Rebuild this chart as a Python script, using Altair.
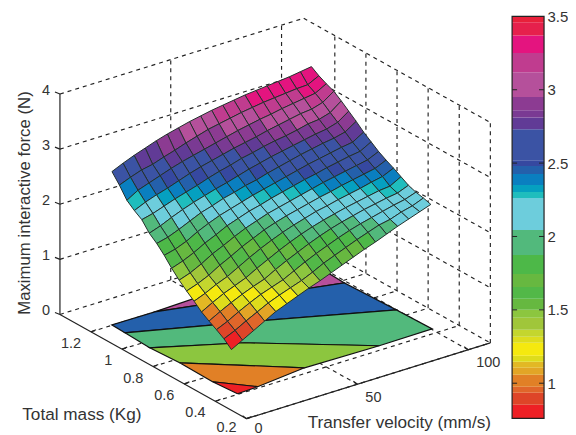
import altair as alt
import pandas as pd

# ---- axis ticks
V_TICKS = [0, 50, 100]
M_TICKS = [0.2, 0.4, 0.6, 0.8, 1, 1.2]
Z_TICKS = [0, 1, 2, 3, 4]
BAR_TICKS = [1, 1.5, 2, 2.5, 3, 3.5]

# ---- surface grid
VELOCITY = [10, 15, 20, 25, 30, 35, 40, 45, 50, 55, 60, 65, 70, 75, 80, 85, 90, 95, 100]
MASS = [0.44, 0.488, 0.536, 0.584, 0.632, 0.68, 0.728, 0.776, 0.824, 0.872, 0.92, 0.968,
        1.016, 1.064, 1.112, 1.16, 1.208]
F_V10 = [.75, .87, .96, 1.04, 1.13, 1.25, 1.36, 1.48, 1.62, 1.78, 1.92, 2.03, 2.20, 2.29, 2.40, 2.60, 2.77]
F_V15 = [.86, .96, 1.05, 1.15, 1.24, 1.33, 1.43, 1.55, 1.69, 1.83, 1.97, 2.10, 2.25, 2.38, 2.52, 2.68, 2.86]
F_V20 = [.97, 1.07, 1.16, 1.25, 1.34, 1.43, 1.52, 1.65, 1.78, 1.91, 2.05, 2.19, 2.32, 2.45, 2.59, 2.75, 2.94]
F_V25 = [1.08, 1.17, 1.26, 1.34, 1.42, 1.51, 1.64, 1.77, 1.89, 2.02, 2.14, 2.27, 2.39, 2.51, 2.66, 2.79, 3.01]
F_V30 = [1.19, 1.27, 1.35, 1.42, 1.50, 1.62, 1.74, 1.86, 1.98, 2.11, 2.23, 2.34, 2.45, 2.58, 2.73, 2.86, 3.08]
F_V35 = [1.27, 1.35, 1.42, 1.49, 1.61, 1.73, 1.85, 1.96, 2.08, 2.19, 2.29, 2.40, 2.51, 2.65, 2.79, 2.92, 3.14]
F_V40 = [1.35, 1.42, 1.49, 1.60, 1.71, 1.83, 1.94, 2.05, 2.15, 2.25, 2.36, 2.46, 2.58, 2.71, 2.84, 2.99, 3.19]
F_V45 = [1.43, 1.49, 1.59, 1.70, 1.81, 1.92, 2.03, 2.12, 2.22, 2.31, 2.41, 2.51, 2.64, 2.76, 2.89, 3.05, 3.24]
F_V50 = [1.50, 1.58, 1.69, 1.79, 1.90, 2.00, 2.10, 2.19, 2.27, 2.37, 2.47, 2.57, 2.69, 2.81, 2.94, 3.11, 3.28]
F_V55 = [1.58, 1.68, 1.78, 1.88, 1.98, 2.07, 2.16, 2.24, 2.33, 2.42, 2.51, 2.63, 2.75, 2.86, 2.99, 3.15, 3.32]
F_V60 = [1.66, 1.76, 1.86, 1.96, 2.05, 2.13, 2.21, 2.29, 2.38, 2.47, 2.57, 2.68, 2.79, 2.90, 3.04, 3.19, 3.35]
F_V65 = [1.74, 1.84, 1.94, 2.03, 2.11, 2.19, 2.26, 2.34, 2.43, 2.52, 2.62, 2.73, 2.84, 2.94, 3.08, 3.23, 3.38]
F_V70 = [1.82, 1.92, 2.01, 2.09, 2.16, 2.23, 2.31, 2.39, 2.48, 2.57, 2.67, 2.77, 2.88, 2.99, 3.12, 3.26, 3.41]
F_V75 = [1.89, 1.99, 2.07, 2.14, 2.21, 2.28, 2.35, 2.44, 2.52, 2.62, 2.72, 2.81, 2.91, 3.03, 3.15, 3.29, 3.43]
F_V80 = [1.97, 2.06, 2.12, 2.19, 2.25, 2.32, 2.40, 2.48, 2.57, 2.66, 2.76, 2.85, 2.95, 3.07, 3.19, 3.31, 3.45]
F_V85 = [2.05, 2.10, 2.17, 2.23, 2.29, 2.36, 2.44, 2.52, 2.61, 2.70, 2.80, 2.89, 3.00, 3.11, 3.22, 3.33, 3.47]
F_V90 = [2.12, 2.17, 2.22, 2.27, 2.33, 2.41, 2.48, 2.56, 2.65, 2.74, 2.83, 2.92, 3.02, 3.13, 3.25, 3.35, 3.49]
F_V95 = [2.19, 2.22, 2.26, 2.30, 2.35, 2.45, 2.52, 2.60, 2.68, 2.77, 2.88, 2.98, 3.08, 3.19, 3.28, 3.36, 3.52]
F_V100 = [2.26, 2.30, 2.33, 2.38, 2.46, 2.54, 2.61, 2.69, 2.79, 2.89, 3.01, 3.12, 3.23, 3.33, 3.39, 3.46, 3.55]
FORCE = [F_V10, F_V15, F_V20, F_V25, F_V30, F_V35, F_V40, F_V45, F_V50, F_V55, F_V60, F_V65,
         F_V70, F_V75, F_V80, F_V85, F_V90, F_V95, F_V100]

# ---- colour map: band limits and colours, as on the colour bar
BAND_LIMITS = [.854, .935, .976, 1.058, 1.105, 1.146, 1.187, 1.276, 1.316, 1.364, 1.446, 1.5,
               1.575, 1.656, 1.745, 1.874, 2.044, 2.262, 2.303, 2.35, 2.425, 2.48, 2.52, 2.73,
               2.81, 2.86, 2.95, 3.12, 3.25, 3.37, 3.46]
BAND_COLORS = ["#EE2025", "#DE4528", "#E0662A", "#E18026", "#E2A526", "#E2B824", "#DEDC1C", "#F5E90F",
               "#DDDD1E", "#C4D62E", "#A0C63A", "#8CC63F", "#66B840", "#52B848", "#67B840", "#4DB848",
               "#52B97C", "#6DCDDC", "#1FBDBD", "#05A0C0", "#0A7FC0", "#2460AB", "#3648A0", "#3B53A4",
               "#613B96", "#7A3A93", "#8C3B92", "#B5509B", "#C03C8F", "#E4147F", "#E6204C", "#E8203A"]
BAR_MIN, BAR_MAX = 0.76, 3.5

# ---- filled contours on the floor: (velocity, mass) outline and level
C_RED = [(10.3, .405), (9.3, .551), (19.8, .411)]
C_ORANGE = [(9.3, .551), (9.6, .767), (43.2, .443), (19.8, .411)]
C_LIME = [(9.6, .767), (8.7, .947), (38.8, .766), (76.3, .434), (43.2, .443)]
C_GREEN = [(8.7, .947), (9.3, 1.115), (58.5, .874), (99.9, .66), (100.4, .437), (76.3, .434), (38.8, .766)]
C_BLUE = [(9.3, 1.115), (9.64, 1.204), (28.8, 1.201), (98.8, .979), (99.9, .66), (58.5, .874)]
C_PURPLE = [(28.8, 1.201), (99.8, 1.235), (98.8, .979)]
CONTOURS = [(C_PURPLE, 3.0), (C_BLUE, 2.45), (C_GREEN, 1.95), (C_LIME, 1.47), (C_ORANGE, 1.0), (C_RED, .8)]

V_EDGE, M_EDGE = 110, 1.4
Z_TOP = 4
FONT = "Liberation Sans"
INK = "#333333"


def px(v, m, z=0):
    """View of the 3-D box, in page pixels."""
    return 247 + 2.22 * v - 155.8 * (m - .2), 417 - .69 * v - 87 * (m - .2) - 55.2 * z


X = alt.Scale(domain=[8, 545], nice=False, zero=False)
Y = alt.Scale(domain=[432, 8], nice=False, zero=False)
xe = alt.X("x:Q", scale=X, axis=None)
ye = alt.Y("y:Q", scale=Y, axis=None)
fill_scale = alt.Scale(type="threshold", domain=BAND_LIMITS, range=BAND_COLORS)

# --- floor contours
rows = []
for n, (outline, level) in enumerate(CONTOURS):
    for k, (v, m) in enumerate(outline + outline[:1]):
        x, y = px(v, m)
        rows.append(dict(cell=n, k=k, x=x, y=y, c=level))
floor = alt.Chart(pd.DataFrame(rows)).mark_line(stroke="#111111", strokeWidth=1.2, clip=False).encode(
    x=xe, y=ye, detail="cell:N", order="k:Q",
    fill=alt.Fill("c:Q", scale=fill_scale, legend=None))

# --- surface
rows = []
n = 0
for i in range(len(MASS) - 2, -1, -1):
    for j in range(len(VELOCITY) - 2, -1, -1):
        corners = [(j, i), (j + 1, i), (j + 1, i + 1), (j, i + 1), (j, i)]
        for k, (b, a) in enumerate(corners):
            x, y = px(VELOCITY[b], MASS[a], FORCE[b][a])
            rows.append(dict(cell=n, k=k, x=x, y=y, c=FORCE[j][i]))
        n += 1
surface = alt.Chart(pd.DataFrame(rows)).mark_line(stroke="#23302c", strokeWidth=1, clip=False).encode(
    x=xe, y=ye, detail="cell:N", order="k:Q",
    fill=alt.Fill("c:Q", scale=fill_scale, legend=None))

# --- dashed grid
seg = []


def add(store, a, b):
    store.append(dict(x=a[0], y=a[1], x2=b[0], y2=b[1]))


for z in Z_TICKS:
    add(seg, px(0, M_EDGE, z), px(V_EDGE, M_EDGE, z))
    add(seg, px(V_EDGE, M_EDGE, z), px(V_EDGE, .2, z))
for v in V_TICKS[1:]:
    add(seg, px(v, .2), px(v, M_EDGE))
    add(seg, px(v, M_EDGE), px(v, M_EDGE, Z_TOP))
for m in M_TICKS:
    add(seg, px(0, m), px(V_EDGE, m))
    add(seg, px(V_EDGE, m), px(V_EDGE, m, Z_TOP))
rule_enc = dict(x=xe, y=ye, x2="x2:Q", y2="y2:Q")
grid = alt.Chart(pd.DataFrame(seg)).mark_rule(stroke="#222222", strokeWidth=1.15, strokeDash=[4, 4]).encode(**rule_enc)

# --- solid axes and their ticks
seg = []
add(seg, px(0, M_EDGE, 0), px(0, M_EDGE, Z_TOP))
add(seg, px(0, M_EDGE, 0), px(0, .2, 0))
add(seg, px(0, .2, 0), px(V_EDGE, .2, 0))
for z in Z_TICKS:
    a = px(0, M_EDGE, z)
    add(seg, a, (a[0] - 5, a[1] - 2))
for m in M_TICKS:
    a = px(0, m)
    add(seg, a, (a[0] + 5, a[1] - 2))
for v in V_TICKS:
    a = px(v, .2)
    add(seg, a, (a[0] - 4, a[1] - 3))
axes3d = alt.Chart(pd.DataFrame(seg)).mark_rule(stroke="#222222", strokeWidth=1.2).encode(**rule_enc)


# --- text
def labels(frame, **mark):
    base = dict(font=FONT, color=INK, baseline="middle")
    base.update(mark)
    return alt.Chart(pd.DataFrame(frame)).mark_text(**base).encode(x=xe, y=ye, text="t:N")


fs = 14.5
ts = 17.2
lab_z = labels([dict(x=px(0, M_EDGE, z)[0] - 10, y=px(0, M_EDGE, z)[1] - 3, t=str(z)) for z in Z_TICKS],
               align="right", fontSize=fs)
lab_m = labels([dict(x=px(0, m)[0] - 10, y=min(px(0, m)[1] + 12, 426.5), t=str(m)) for m in M_TICKS],
               align="right", fontSize=fs)
lab_v = labels([dict(x=px(v, .2)[0] + 8, y=min(px(v, .2)[1] + 13.5, 427), t=str(v)) for v in V_TICKS],
               align="left", fontSize=fs)
title_m = labels([dict(x=82, y=413, t="Total mass (Kg)")], align="center", fontSize=ts)
title_v = labels([dict(x=400, y=421, t="Transfer velocity (mm/s)")], align="center", fontSize=ts)
title_z = labels([dict(x=25, y=201, t="Maximum interactive force (N)")], align="center", fontSize=ts - .4, angle=270)

# --- colour bar, with a value axis of its own
bar_scale = alt.Scale(domain=[.6565, 3.5408], nice=False, zero=False)
edges = [BAR_MIN] + BAND_LIMITS + [BAR_MAX]
bar_df = pd.DataFrame(dict(lo=edges[:-1], hi=edges[1:], c=[(a + b) / 2 for a, b in zip(edges[:-1], edges[1:])],
                           x=513, x2=545))
bar = alt.Chart(bar_df).mark_rect().encode(
    x=xe, x2="x2:Q",
    y=alt.Y("lo:Q", scale=bar_scale, axis=alt.Axis(
        orient="right", values=BAR_TICKS, domain=False, ticks=False, grid=False, title=None, format="~g",
        labelFont=FONT, labelFontSize=15, labelColor=INK, labelPadding=3)),
    y2="hi:Q",
    color=alt.Color("c:Q", scale=fill_scale, legend=None))
frame_df = pd.DataFrame(dict(lo=[BAR_MIN], hi=[BAR_MAX], x=[513], x2=[545]))
bar_frame = alt.Chart(frame_df).mark_rect(fillOpacity=0, stroke="#222222", strokeWidth=1.2).encode(
    x=xe, x2="x2:Q", y=alt.Y("lo:Q", scale=bar_scale, axis=None), y2="hi:Q")
tick_df = pd.DataFrame([dict(b=t, x=a, x2=c) for t in BAR_TICKS[:-1] for a, c in ((513, 518), (540, 545))])
bar_ticks = alt.Chart(tick_df).mark_rule(stroke="#222222", strokeWidth=1).encode(
    x=xe, x2="x2:Q", y=alt.Y("b:Q", scale=bar_scale, axis=None))

chart = alt.layer(grid, floor, axes3d, surface, lab_z, lab_m, lab_v, title_m, title_v, title_z,
                  bar, bar_frame, bar_ticks).resolve_scale(y="independent", color="independent", fill="independent").properties(
    width=537, height=424, padding=0, background="white"
).configure_view(stroke=None)

chart.save("out.html", embed_options={"renderer": "svg", "actions": False})
